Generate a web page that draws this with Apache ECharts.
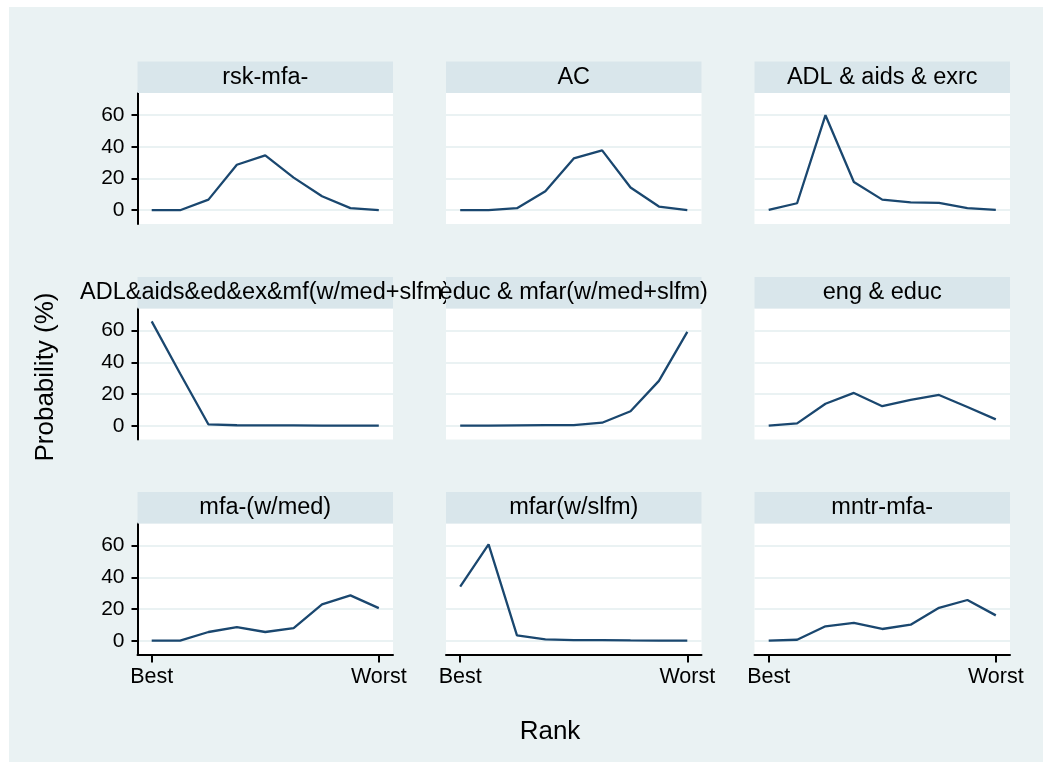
<!DOCTYPE html>
<html>
<head>
<meta charset="utf-8">
<script src="https://cdn.jsdelivr.net/npm/echarts@6/dist/echarts.min.js"></script>
<style>
html,body{margin:0;padding:0;background:#fff;}
#chart{width:1051px;height:769px;}
</style>
</head>
<body>
<div id="chart"></div>
<script>
// ---- Data ----
const panelTitles = ["rsk-mfa-", "AC", "ADL & aids & exrc",
  "ADL&aids&ed&ex&mf(w/med+slfm)", "educ & mfar(w/med+slfm)", "eng & educ",
  "mfa-(w/med)", "mfar(w/slfm)", "mntr-mfa-"];
const ranks = [1, 2, 3, 4, 5, 6, 7, 8, 9];
const rankTickValues = [1, 9];
const rankTickLabels = ["Best", "Worst"];
const probTickValues = [0, 20, 40, 60];
const rskMfa = [0, 0, 6.7, 28.7, 34.6, 20.6, 8.8, 1.3, 0];
const ac = [0, 0, 1.3, 12.0, 32.7, 37.8, 14.3, 2.3, 0];
const adlAidsExrc = [0.2, 4.4, 60.0, 17.8, 6.7, 5.0, 4.6, 1.3, 0.2];
const adlAidsEdExMf = [65.9, 33.0, 0.8, 0.3, 0.2, 0.2, 0.1, 0.1, 0];
const educMfar = [0, 0, 0.2, 0.4, 0.4, 1.9, 9.1, 28.3, 59.2];
const engEduc = [0, 1.5, 13.9, 20.7, 12.3, 16.3, 19.4, 11.8, 4.0];
const mfaMed = [0, 0, 5.5, 8.6, 5.5, 8.0, 22.9, 28.6, 20.6];
const mfarSlfm = [34.1, 60.8, 3.4, 0.8, 0.4, 0.4, 0.2, 0.1, 0];
const mntrMfa = [0, 0.6, 9.1, 11.2, 7.4, 10.1, 20.8, 25.7, 16.0];
const panelData = [rskMfa, ac, adlAidsExrc, adlAidsEdExMf, educMfar, engEduc, mfaMed, mfarSlfm, mntrMfa];

// ---- Layout ----
const FONT = '"Liberation Sans", Arial, sans-serif';
const colLeft = [137.5, 446, 754.5];
const rowTop = [93, 308.5, 523.5];
const plotW = 255.5, plotH = 131, stripH = 31.5;
const lineColor = '#1a476f';

const grids = [], xAxes = [], yAxes = [], series = [], graphics = [];

graphics.push({type:'rect', shape:{x:9, y:7, width:1034, height:755}, style:{fill:'#eaf2f3'}, z:-10, silent:true});

panelData.forEach((vals, i) => {
  const r = Math.floor(i / 3), c = i % 3;
  const left = colLeft[c], top = rowTop[r];
  grids.push({left:left, top:top, width:plotW, height:plotH, show:true, backgroundColor:'#ffffff', borderWidth:0});
  const bottomRow = r === 2, firstCol = c === 0;
  xAxes.push({
    type:'value', gridIndex:i, min:0.5, max:9.5,
    axisLine:{show:bottomRow, onZero:false, lineStyle:{color:'#000', width:2}},
    axisTick:{show:bottomRow, length:8, customValues:rankTickValues, lineStyle:{color:'#000', width:2}},
    axisLabel:{show:bottomRow, customValues:rankTickValues, margin:12, fontSize:21.5, fontFamily:FONT, color:'#000',
      formatter:(v) => rankTickLabels[rankTickValues.indexOf(v)] || ''},
    splitLine:{show:false}
  });
  yAxes.push({
    type:'value', gridIndex:i, min:-8.7, max:74,
    axisLine:{show:firstCol, onZero:false, lineStyle:{color:'#000', width:2}},
    axisTick:{show:firstCol, length:6, customValues:probTickValues, lineStyle:{color:'#000', width:2}},
    axisLabel:{show:firstCol, customValues:probTickValues, margin:13, fontSize:21, fontFamily:FONT, color:'#000'},
    splitLine:{show:true, lineStyle:{color:'#eaf2f3', width:2}}
  });
  series.push({
    type:'line', xAxisIndex:i, yAxisIndex:i,
    data: ranks.map((x, k) => [x, vals[k]]),
    showSymbol:false, symbol:'none',
    lineStyle:{color:lineColor, width:2.3}, itemStyle:{color:lineColor},
    animation:false, silent:true
  });
  graphics.push({type:'rect', shape:{x:left, y:top - stripH, width:plotW, height:stripH},
    style:{fill:'#d9e6eb'}, z:100 + 2*i, silent:true});
  graphics.push({type:'text', x:left + plotW/2, y:top - stripH/2,
    style:{text:panelTitles[i], fill:'#000', font:'23.5px ' + FONT, textAlign:'center', textVerticalAlign:'middle'},
    z:101 + 2*i, silent:true});
});

graphics.push({type:'text', x:46, y:377, rotation:Math.PI/2,
  style:{text:'Probability (%)', fill:'#000', font:'26px ' + FONT, textAlign:'center', textVerticalAlign:'middle'}, silent:true});
graphics.push({type:'text', x:550, y:732,
  style:{text:'Rank', fill:'#000', font:'26px ' + FONT, textAlign:'center', textVerticalAlign:'middle'}, silent:true});

const chart = echarts.init(document.getElementById('chart'), null, {renderer:'canvas'});
chart.setOption({
  backgroundColor:'#ffffff',
  animation:false,
  grid: grids, xAxis: xAxes, yAxis: yAxes, series: series,
  graphic: graphics
});
</script>
</body>
</html>
